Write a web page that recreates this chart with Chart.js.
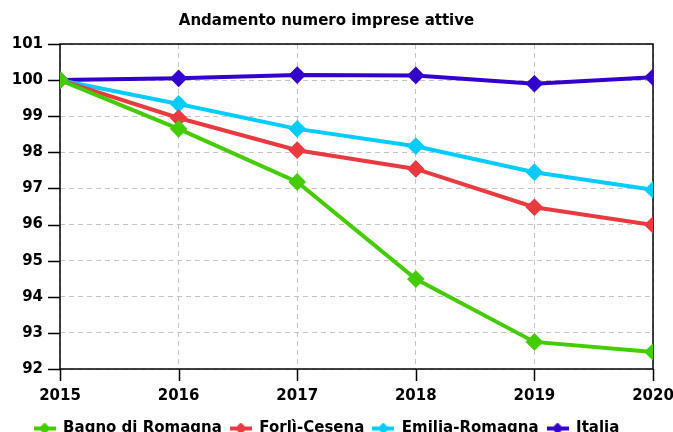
<!DOCTYPE html>
<html>
<head>
<meta charset="utf-8">
<script src="https://cdn.jsdelivr.net/npm/chart.js@4"></script>
<style>
  html, body { margin: 0; padding: 0; background: #fff; }
  #wrap { width: 673px; height: 432px; }
</style>
</head>
<body>
<div id="wrap"><canvas id="myChart" width="673" height="432"></canvas></div>
<script>
// anni e valori (indice 2015 = 100)
var years = ['2015', '2016', '2017', '2018', '2019', '2020'];
var bagno   = [100, 98.65, 97.18, 94.49, 92.75, 92.47];
var forli   = [100, 98.95, 98.06, 97.54, 96.48, 95.99];
var emilia  = [100, 99.34, 98.65, 98.17, 97.45, 96.96];
var italia  = [100, 100.05, 100.14, 100.13, 99.9, 100.08];

var FONT = "'DejaVu Sans', sans-serif";

// piccola icona per la legenda: linea + rombo
function legendIcon(color) {
  var c = document.createElement('canvas');
  c.width = 22; c.height = 12;
  var g = c.getContext('2d');
  g.fillStyle = color;
  g.fillRect(0, 4, 22, 4);
  g.beginPath();
  g.moveTo(11, 0); g.lineTo(17, 6); g.lineTo(11, 12); g.lineTo(5, 6);
  g.closePath();
  g.fill();
  return c;
}

// bordo nero e tacche fuori dall'area del grafico
var boxPlugin = {
  id: 'box',
  beforeDatasetsDraw: function (chart) {
    var a = chart.chartArea, c = chart.ctx;
    var xs = chart.scales.x, ys = chart.scales.y;
    c.save();
    c.strokeStyle = '#000';
    c.lineWidth = 1.5;
    c.strokeRect(a.left, a.top, a.right - a.left, a.bottom - a.top);
    c.beginPath();
    xs.ticks.forEach(function (t, i) {
      var x = Math.round(xs.getPixelForTick(i)) + 0.5;
      c.moveTo(x, a.bottom); c.lineTo(x, a.bottom + 12);
    });
    ys.ticks.forEach(function (t, i) {
      var y = Math.round(ys.getPixelForTick(i)) + 0.5;
      c.moveTo(a.left - 12, y); c.lineTo(a.left, y);
    });
    c.stroke();
    c.restore();
  }
};

function ds(label, data, color) {
  return {
    label: label,
    data: data,
    borderColor: color,
    backgroundColor: color,
    borderWidth: 4,
    pointStyle: 'rectRot',
    pointRadius: 6,
    pointHoverRadius: 6,
    clip: 0,
    tension: 0
  };
}

var ctx = document.getElementById('myChart').getContext('2d');
var myChart = new Chart(ctx, {
  type: 'line',
  data: {
    labels: years,
    datasets: [
      ds('Bagno di Romagna', bagno, '#44cc00'),
      ds('Forlì-Cesena', forli, '#e83a3f'),
      ds('Emilia-Romagna', emilia, '#00ccff'),
      ds('Italia', italia, '#3300cc')
    ]
  },
  options: {
    responsive: false,
    animation: false,
    layout: { padding: { left: 0, right: 20, top: 0, bottom: -14 } },
    plugins: {
      title: {
        display: true,
        text: 'Andamento numero imprese attive',
        color: '#000',
        font: { family: FONT, size: 15, weight: 'bold' },
        padding: { top: 12, bottom: 14 }
      },
      legend: {
        position: 'bottom',
        labels: {
          usePointStyle: true,
          pointStyleWidth: 22,
          boxHeight: 12,
          padding: 8,
          color: '#000',
          font: { family: FONT, size: 15, weight: 'bold' },
          generateLabels: function (chart) {
            var items = Chart.defaults.plugins.legend.labels.generateLabels(chart);
            items.forEach(function (it) {
              it.pointStyle = legendIcon(chart.data.datasets[it.datasetIndex].borderColor);
            });
            return items;
          }
        }
      },
      tooltip: { enabled: false }
    },
    scales: {
      x: {
        offset: false,
        afterFit: function (scale) {
          scale.height = 44;
          scale.paddingLeft = 0;
          scale.paddingRight = 0;
        },
        grid: {
          color: '#c4c4c4',
          tickColor: 'rgba(0,0,0,0)',
          tickLength: 12
        },
        border: { display: false, dash: [5, 4] },
        ticks: {
          color: '#000',
          padding: 6,
          maxRotation: 0,
          font: { family: FONT, size: 15, weight: 'bold' }
        }
      },
      y: {
        min: 92,
        max: 101,
        afterFit: function (scale) { scale.width = 60; },
        grid: {
          color: '#c4c4c4',
          tickColor: 'rgba(0,0,0,0)',
          tickLength: 12
        },
        border: { display: false, dash: [5, 4] },
        ticks: {
          stepSize: 1,
          color: '#000',
          padding: 5,
          font: { family: FONT, size: 15, weight: 'bold' }
        }
      }
    }
  },
  plugins: [boxPlugin]
});
</script>
</body>
</html>
